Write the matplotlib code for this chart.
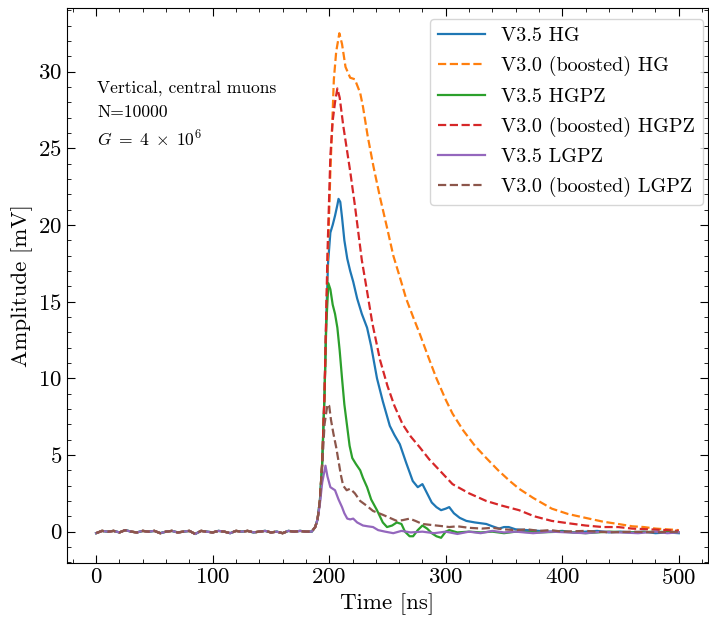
import matplotlib
matplotlib.use('Agg')
import matplotlib.pyplot as plt
import numpy as np

plt.rcParams.update({
    'font.family': 'serif',
    'font.serif': ['cmr10'],
    'mathtext.fontset': 'cm',
    'axes.formatter.use_mathtext': True,
    'xtick.direction': 'in',
    'ytick.direction': 'in',
    'xtick.top': True,
    'ytick.right': True,
    'xtick.minor.visible': True,
    'ytick.minor.visible': True,
    'xtick.major.size': 6,
    'ytick.major.size': 6,
    'xtick.minor.size': 3,
    'ytick.minor.size': 3,
})

# pre-trigger baseline (ns, mV), shared by all channels
t_base = [0, 5, 10, 15, 20, 25, 30, 35, 40, 45, 50, 55, 60, 65, 70, 75, 80, 85, 90,
          95, 100, 105, 110, 115, 120, 125, 130, 135, 140, 145, 150, 155, 160, 165, 170, 175, 180]
y_base = [-0.1, 0.05, 0.0, 0.05, -0.05, 0.1, 0.0, -0.05, 0.05, 0.0, 0.05, -0.1, 0.0, 0.05, -0.05, 0.0, 0.05, -0.15, 0.05,
          0.0, -0.05, 0.05, 0.0, -0.1, 0.05, 0.0, 0.05, -0.05, 0.0, 0.05, -0.05, 0.0, -0.1, 0.05, 0.0, 0.05, 0.0]

# V3.5 HG
t_hg35 = [185, 188, 190, 192, 194, 196, 197.5, 199, 201, 203, 205, 207, 208, 209.5, 211, 213, 215.5, 218, 220.6, 224,
          228, 232.5, 236, 241, 246, 252, 256, 260.6, 266, 271.7, 276, 280, 284, 288, 292, 296, 300, 303, 307, 312,
          317.7, 325, 334.8, 340, 345.8, 350, 354, 360, 370, 380, 390, 400, 410, 420, 430, 440, 450, 460, 470, 480,
          490, 500]
y_hg35 = [0.0, 0.3, 0.8, 2.0, 4.5, 9.0, 14.0, 17.5, 19.5, 20.0, 20.6, 21.3, 21.7, 21.5, 20.5, 19.0, 17.8, 17.0, 16.3, 15.2,
          14.2, 13.3, 12.1, 10.0, 8.5, 6.9, 6.3, 5.7, 4.5, 3.3, 2.9, 3.1, 2.5, 1.9, 1.6, 1.4, 1.5, 1.6, 1.2, 0.9,
          0.7, 0.6, 0.5, 0.35, 0.2, 0.3, 0.3, 0.15, 0.1, 0.05, 0.0, 0.05, -0.05, 0.0, 0.05, -0.05, 0.0, -0.05, 0.0, -0.1,
          -0.05, -0.1]

# V3.0 (boosted) HG
t_hg30 = [185, 188, 190, 192, 194, 196, 198.5, 201, 202.7, 204, 206, 208.7, 211, 214, 218, 222, 226.6, 229, 233, 238,
          243.6, 250, 255, 260.6, 266, 272, 277.7, 285, 292, 300, 305.8, 315, 325, 334.8, 345, 355, 362.9, 375, 391, 405,
          419.9, 435, 448, 460, 470, 480, 490, 500]
y_hg30 = [0.0, 0.3, 0.8, 2.0, 4.5, 9.0, 17.0, 23.5, 26.8, 29.5, 31.3, 32.5, 31.8, 30.3, 29.6, 29.5, 28.6, 27.7, 25.8, 23.8,
          21.8, 19.7, 18.0, 16.6, 15.2, 14.0, 12.9, 11.4, 10.0, 8.6, 7.7, 6.6, 5.6, 4.8, 4.0, 3.3, 2.8, 2.2, 1.5, 1.15,
          0.9, 0.65, 0.5, 0.35, 0.3, 0.2, 0.15, 0.1]

# V3.5 HGPZ
t_hgpz35 = [185, 188, 190, 192, 194, 196, 197.5, 199.3, 201, 203, 205, 207, 209, 211, 213, 215.5, 217.5, 219.8, 223, 226.6,
            229, 232.5, 236, 241, 246, 249.6, 254, 258, 262, 265, 269, 272, 276, 280, 284, 288, 292, 296, 300, 303,
            310, 320, 330, 340, 350, 360, 380, 400, 420, 440, 460, 480, 500]
y_hgpz35 = [0.0, 0.3, 0.8, 2.0, 4.5, 9.0, 13.5, 16.2, 15.8, 14.8, 14.2, 13.3, 11.8, 10.0, 8.3, 6.8, 5.6, 4.8, 4.4, 4.0,
            3.5, 2.9, 2.1, 1.4, 0.6, 0.3, 0.4, 0.6, 0.5, 0.0, -0.3, -0.3, 0.1, 0.4, 0.2, -0.1, -0.3, -0.4, 0.0, 0.1,
            -0.05, 0.0, -0.05, 0.0, -0.1, 0.0, -0.05, 0.0, -0.1, 0.0, -0.05, 0.0, -0.05]

# V3.0 (boosted) HGPZ
t_hgpz30 = [185, 188, 190, 192, 194, 196, 198.5, 201, 203, 205, 207, 209, 212, 215, 218, 222, 228, 232, 237, 243.6,
            250, 256, 263, 270, 277.7, 286, 294.7, 305.8, 320, 334.8, 348, 362.9, 376, 391, 405, 420, 435, 448, 460, 475,
            490, 500]
y_hgpz30 = [0.0, 0.3, 0.8, 2.0, 4.5, 9.0, 18.1, 24.5, 26.8, 28.0, 28.9, 28.3, 26.5, 25.0, 23.5, 21.3, 17.7, 15.9, 13.6, 11.2,
            9.5, 8.2, 7.0, 6.2, 5.5, 4.7, 4.0, 3.1, 2.5, 2.0, 1.7, 1.4, 1.0, 0.7, 0.55, 0.4, 0.3, 0.3, 0.2, 0.15,
            0.1, 0.05]

# V3.5 LGPZ
t_lgpz35 = [185, 188, 190, 192, 194, 196.8, 198.5, 201, 203, 205, 208, 211, 213, 215.5, 218, 220.6, 224, 229, 233, 237.6,
            242, 248, 255, 262, 270, 280, 290, 300, 310, 320, 330, 340, 350, 360, 375, 390, 405, 420, 435, 450,
            465, 480, 490, 500]
y_lgpz35 = [0.0, 0.3, 0.8, 1.8, 3.2, 4.3, 3.6, 2.9, 2.8, 2.7, 2.1, 1.6, 1.2, 0.85, 0.8, 0.85, 0.6, 0.4, 0.35, 0.3,
            0.1, 0.0, -0.1, 0.05, -0.05, 0.0, -0.1, 0.0, -0.15, 0.0, -0.1, 0.05, -0.05, 0.0, -0.1, 0.0, -0.05, -0.1, 0.0, -0.05,
            -0.1, 0.0, -0.1, -0.05]

# V3.0 (boosted) LGPZ
t_lgpz30 = [185, 188, 190, 192, 194, 196, 198.5, 200, 201.5, 203.6, 206, 208, 210, 212, 215, 218, 222, 226.6, 232, 237.6,
            241, 246, 252, 258, 263, 269, 274, 280, 286, 292, 298, 303, 310, 320, 331, 340, 350, 360, 370, 380,
            390, 400, 420, 440, 460, 480, 500]
y_lgpz30 = [0.0, 0.3, 0.8, 2.0, 4.3, 7.0, 8.3, 8.2, 7.3, 6.4, 5.5, 4.6, 3.7, 3.0, 2.7, 2.8, 2.5, 2.0, 1.7, 1.35,
            1.25, 1.1, 0.9, 0.7, 0.75, 0.85, 0.7, 0.5, 0.45, 0.4, 0.35, 0.3, 0.35, 0.25, 0.2, 0.25, 0.15, 0.1, 0.15, 0.05,
            0.1, 0.0, 0.05, -0.05, 0.0, -0.05, 0.0]

series = [
    (t_hg35, y_hg35, 'V3.5 HG', 'C0', '-'),
    (t_hg30, y_hg30, 'V3.0 (boosted) HG', 'C1', '--'),
    (t_hgpz35, y_hgpz35, 'V3.5 HGPZ', 'C2', '-'),
    (t_hgpz30, y_hgpz30, 'V3.0 (boosted) HGPZ', 'C3', '--'),
    (t_lgpz35, y_lgpz35, 'V3.5 LGPZ', 'C4', '-'),
    (t_lgpz30, y_lgpz30, 'V3.0 (boosted) LGPZ', 'C5', '--'),
]

fig = plt.figure(figsize=(7.09, 6.17), dpi=100)
ax = fig.add_axes([0.0945, 0.0875, 0.904, 0.8995])

for t, y, label, color, ls in series:
    ax.plot(np.concatenate([t_base, t]), np.concatenate([y_base, y]),
            color=color, ls=ls, lw=1.6, label=label)

ax.set_xlabel('Time [ns]', fontsize=16.5, labelpad=4)
ax.set_ylabel('Amplitude [mV]', fontsize=16.5, labelpad=4)
ax.xaxis.set_major_locator(plt.MultipleLocator(100))
ax.xaxis.set_minor_locator(plt.MultipleLocator(20))
ax.yaxis.set_major_locator(plt.MultipleLocator(5))
ax.yaxis.set_minor_locator(plt.MultipleLocator(1))
ax.tick_params(labelsize=16.5)

ax.text(0.047, 0.856, 'Vertical, central muons', transform=ax.transAxes, fontsize=12.6, va='center')
ax.text(0.047, 0.8126, 'N=10000', transform=ax.transAxes, fontsize=12.6, va='center')
ax.text(0.047, 0.764, r'$G\;=\;4\;\times\;10^6$', transform=ax.transAxes, fontsize=12.6, va='center')

ax.legend(loc='upper right', bbox_to_anchor=(0.992, 0.98), borderaxespad=0,
          fontsize=14.5, handlelength=2.3, labelspacing=0.55)

fig.savefig('out.png', dpi=100)
